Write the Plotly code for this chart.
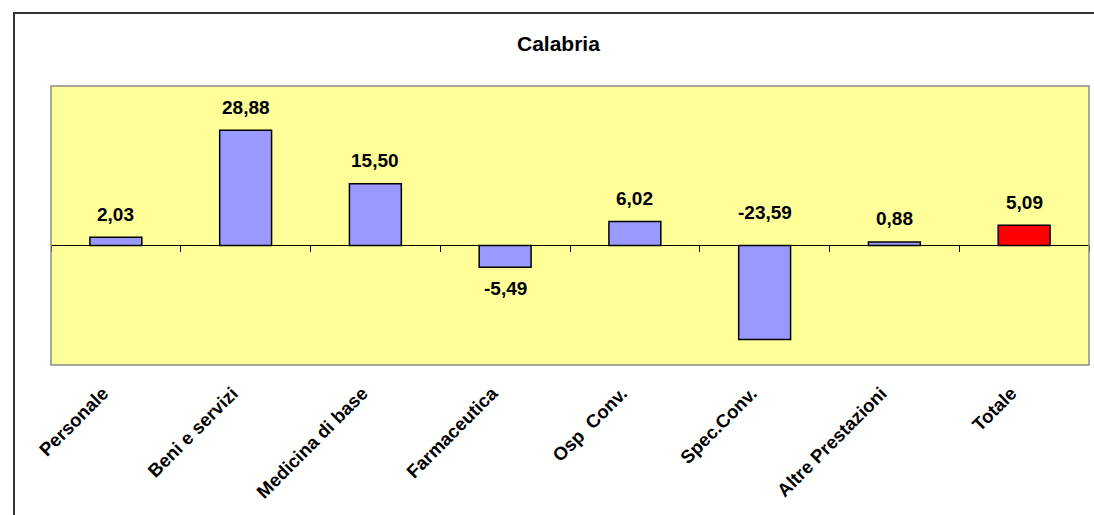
import plotly.graph_objects as go

categories = ["Personale", "Beni e servizi", "Medicina di base", "Farmaceutica",
              "Osp  Conv.", "Spec.Conv.", "Altre Prestazioni", "Totale"]
values = [2.03, 28.88, 15.50, -5.49, 6.02, -23.59, 0.88, 5.09]
value_labels = ["2,03", "28,88", "15,50", "-5,49", "6,02", "-23,59", "0,88", "5,09"]
title_text = "Calabria"

# label placement style: "end" = beyond the bar end, "above0" = above the zero line
label_side = ["end", "end", "end", "end", "end", "above0", "end", "end"]

y_range = [-30, 40]
bar_colors = ["#9999FF"] * (len(categories) - 1) + ["#FF0000"]
FONT = "Liberation Sans, Arial, sans-serif"

idx = list(range(len(categories)))

fig = go.Figure()
fig.add_trace(go.Bar(
    x=idx, y=values, width=0.4,
    marker=dict(color=bar_colors, line=dict(color="black", width=1.5)),
    hoverinfo="skip",
))
# invisible trace that carries the zero-line axis with tick marks
fig.add_trace(go.Scatter(
    x=idx, y=[0] * len(idx), xaxis="x2", yaxis="y",
    mode="markers", marker=dict(opacity=0), hoverinfo="skip", showlegend=False,
))

annotations = []
for i, (v, lab, side) in enumerate(zip(values, value_labels, label_side)):
    if side == "above0":
        y, shift = 0, 33
    elif v >= 0:
        y, shift = v, 23
    else:
        y, shift = v, -21
    annotations.append(dict(
        x=i, y=y, xref="x", yref="y", text=lab, showarrow=False,
        yshift=shift, yanchor="middle", xanchor="center",
        font=dict(family=FONT, size=19, color="black", weight="bold"),
    ))

# plot area spans pixels 51..1089 horizontally and 86..365 vertically
annotations.append(dict(
    x=(558.5 - 51) / 1038, y=(365 - 43) / 279, xref="paper", yref="paper",
    text=title_text, showarrow=False, xanchor="center", yanchor="middle",
    font=dict(family=FONT, size=21, color="black", weight="bold"),
))

xr = [-0.5, len(categories) - 0.5]
zero_pos = (0 - y_range[0]) / (y_range[1] - y_range[0])

fig.update_layout(
    width=1094, height=515,
    margin=dict(l=51, r=5, t=86, b=150),
    paper_bgcolor="white",
    plot_bgcolor="#FFFF99",
    showlegend=False,
    annotations=annotations,
    xaxis=dict(
        range=xr, tickmode="array", tickvals=idx, ticktext=categories,
        tickangle=-45, ticks="", showline=False, showgrid=False, zeroline=False,
        ticklabelstandoff=13, ticklabelshift=-13,
        tickfont=dict(family=FONT, size=18.5, color="black", weight="bold"),
    ),
    xaxis2=dict(
        overlaying="x", anchor="free", position=zero_pos, side="bottom",
        range=xr, tickmode="array",
        tickvals=[i - 0.5 for i in range(len(categories) + 1)],
        ticks="outside", ticklen=6, tickwidth=1, tickcolor="black",
        showticklabels=False, showline=True, linecolor="black", linewidth=1,
        showgrid=False, zeroline=False,
    ),
    yaxis=dict(range=y_range, showticklabels=False, showgrid=False,
               zeroline=False, showline=False, ticks=""),
    shapes=[
        dict(type="rect", xref="paper", yref="paper", x0=0, x1=1, y0=0, y1=1,
             line=dict(color="#8c8c8c", width=1.5), layer="above"),
        dict(type="rect", xref="paper", yref="paper",
             x0=(14 - 51) / 1038, x1=1.2, y0=-1, y1=(365 - 13) / 279,
             line=dict(color="#333333", width=2)),
    ],
)

fig.write_html("out.html")
